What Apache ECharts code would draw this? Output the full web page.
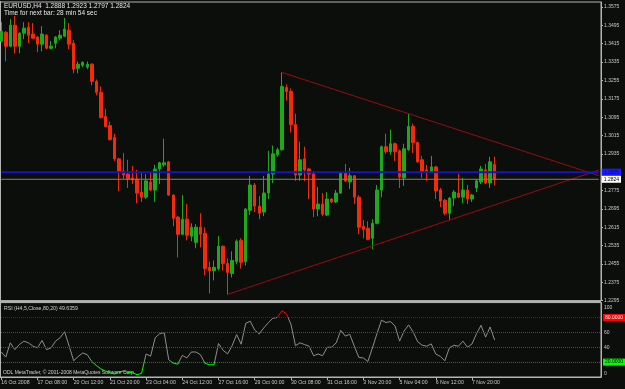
<!DOCTYPE html>
<html><head><meta charset="utf-8">
<script src="https://cdn.jsdelivr.net/npm/echarts@6/dist/echarts.min.js"></script>
<style>html,body{margin:0;padding:0;background:#0c0e0c}#c{width:625px;height:389px}</style>
</head><body><div id="c"></div>
<script>
const headerText = 'EURUSD,H4  1.2888 1.2923 1.2797 1.2824';
const timerText = 'Time for next bar: 28 min 54 sec';
const rsiTitle = 'RSI (H4,5,Close,80,20) 49.6359';
const copyright = 'ODL MetaTrader, \u00a9 2001-2008 MetaQuotes Software Corp.';
const dateTicks = ['16 Oct 2008','17 Oct 08:00','20 Oct 12:00','21 Oct 20:00','23 Oct 04:00','24 Oct 12:00','27 Oct 16:00','29 Oct 00:00','30 Oct 08:00','31 Oct 16:00','3 Nov 20:00','5 Nov 04:00','6 Nov 12:00','7 Nov 20:00'];
const barsPerTick = 8;
const slots = 133;
const opens = [1.3426,1.3465,1.3404,1.3496,1.3404,1.3461,1.3487,1.3457,1.3444,1.3413,
1.3452,1.3395,1.3417,1.3439,1.3448,1.3474,1.3417,1.3308,1.3321,1.3313,
1.3326,1.3251,1.3203,1.3098,1.3058,1.3006,1.2913,1.2860,1.2847,1.2830,
1.2825,1.2768,1.2746,1.2812,1.2777,1.2869,1.2887,1.2900,1.2755,1.2659,
1.2584,1.2650,1.2576,1.2549,1.2615,1.2589,1.2440,1.2426,1.2435,1.2532,
1.2457,1.2413,1.2465,1.2558,1.2465,1.2689,1.2799,1.2707,1.2681,1.2764,
1.2847,1.2931,1.2953,1.3224,1.3207,1.3063,1.2843,1.2913,1.2869,1.2847,
1.2694,1.2716,1.2668,1.2738,1.2725,1.2764,1.2852,1.2812,1.2839,1.2746,
1.2619,1.2611,1.2567,1.2632,1.2777,1.2966,1.2944,1.2979,1.2948,1.2830,
1.2953,1.3054,1.2984,1.2909,1.2865,1.2856,1.2878,1.2777,1.2733,1.2676,
1.2742,1.2764,1.2746,1.2777,1.2738,1.2786,1.2812,1.2865,1.2808,1.2888];
const highs = [1.3509,1.3470,1.3522,1.3536,1.3465,1.3509,1.3509,1.3505,1.3448,1.3492,
1.3457,1.3426,1.3448,1.3474,1.3527,1.3505,1.3430,1.3338,1.3338,1.3338,
1.3330,1.3259,1.3229,1.3132,1.3076,1.3023,1.2917,1.2939,1.2909,1.2882,
1.2865,1.2852,1.2847,1.2852,1.2887,1.2900,1.3001,1.2904,1.2759,1.2663,
1.2755,1.2716,1.2632,1.2628,1.2676,1.2615,1.2465,1.2470,1.2576,1.2536,
1.2479,1.2510,1.2562,1.2567,1.2698,1.2839,1.2808,1.2751,1.2839,1.2948,
1.2971,1.2962,1.3290,1.3238,1.3220,1.3110,1.2988,1.2966,1.2874,1.2860,
1.2790,1.2764,1.2768,1.2742,1.2777,1.2856,1.2891,1.2874,1.2843,1.2755,
1.2646,1.2641,1.2650,1.2799,1.2971,1.3023,1.3041,1.2984,1.2953,1.2979,
1.3110,1.3067,1.2988,1.2926,1.2887,1.2926,1.2882,1.2786,1.2738,1.2746,
1.2777,1.2847,1.2830,1.2799,1.2760,1.2825,1.2882,1.2891,1.2922,1.2923];
const lows = [1.3422,1.3338,1.3400,1.3373,1.3373,1.3435,1.3417,1.3435,1.3378,1.3382,
1.3391,1.3391,1.3395,1.3430,1.3444,1.3391,1.3286,1.3286,1.3313,1.3304,
1.3233,1.3190,1.3089,1.3050,1.2993,1.2904,1.2773,1.2825,1.2786,1.2803,
1.2720,1.2725,1.2738,1.2773,1.2725,1.2803,1.2878,1.2751,1.2619,1.2483,
1.2580,1.2558,1.2554,1.2523,1.2527,1.2405,1.2326,1.2383,1.2426,1.2426,
1.2322,1.2396,1.2453,1.2435,1.2448,1.2668,1.2681,1.2650,1.2663,1.2738,
1.2808,1.2922,1.2948,1.3167,1.3028,1.2817,1.2817,1.2817,1.2738,1.2659,
1.2663,1.2663,1.2663,1.2720,1.2720,1.2760,1.2812,1.2782,1.2716,1.2584,
1.2567,1.2558,1.2519,1.2628,1.2746,1.2935,1.2931,1.2904,1.2786,1.2795,
1.2948,1.2939,1.2896,1.2830,1.2817,1.2852,1.2738,1.2703,1.2668,1.2646,
1.2707,1.2742,1.2720,1.2716,1.2725,1.2768,1.2803,1.2803,1.2786,1.2797];
const closes = [1.3470,1.3404,1.3496,1.3404,1.3461,1.3483,1.3452,1.3439,1.3413,1.3457,
1.3395,1.3404,1.3444,1.3452,1.3479,1.3413,1.3304,1.3326,1.3334,1.3326,
1.3251,1.3203,1.3093,1.3054,1.2997,1.2913,1.2856,1.2843,1.2825,1.2821,
1.2764,1.2746,1.2817,1.2777,1.2869,1.2896,1.2896,1.2755,1.2654,1.2584,
1.2650,1.2580,1.2615,1.2615,1.2584,1.2435,1.2426,1.2440,1.2532,1.2457,
1.2418,1.2470,1.2554,1.2462,1.2694,1.2799,1.2707,1.2676,1.2764,1.2847,
1.2935,1.2953,1.3229,1.3207,1.3063,1.2843,1.2909,1.2865,1.2847,1.2694,
1.2716,1.2672,1.2738,1.2725,1.2764,1.2852,1.2817,1.2839,1.2746,1.2615,
1.2606,1.2562,1.2632,1.2777,1.2966,1.2944,1.2979,1.2944,1.2834,1.2957,
1.3054,1.2984,1.2900,1.2856,1.2856,1.2878,1.2773,1.2729,1.2676,1.2742,
1.2768,1.2746,1.2777,1.2738,1.2755,1.2817,1.2869,1.2808,1.2900,1.2824];
const rsiValues = [33.6,26.8,45.9,36.8,43.6,48.2,45.9,41.4,39.1,49.1,
36.8,39.1,48.2,52.7,60.9,41.4,21.8,27.7,32.3,30.0,
20.9,15.5,10.9,8,6,4,7,8,6,6,
3,5,30.9,28,52.7,58.2,59.5,23.2,18.6,17.3,
29.1,25.5,33.6,33.6,30.0,18.6,16.4,16.4,45,36,
31,42,57,44,72,75,63,58,66,73,
79,80,89,85,71,42,46,43.6,41.4,28.6,
30.9,28.6,40,40,45.9,62.7,55,57.3,41.4,26.4,
25.5,20.9,39.1,58.2,76.4,73.2,74.5,68.6,48.2,61.8,
70,60.5,47.3,42.7,41.4,44.5,30.9,27.7,21.8,39.1,
42.7,41.4,48.2,40,44.5,58.2,69.5,53.6,67.3,49.6359];
const priceAxis = {min: 1.2295, max: 1.3597, interval: 0.008};
const upperTrend = [[62, 1.3290], [90, 1.3110]];
const lowerTrend = [[50, 1.2322], [99, 1.2646]];
const blueLevel = 1.2855;
const bidLevel = 1.2824;
const rsiLevels = [80, 60, 40, 20];

const cats = Array.from({length: slots}, (_, i) =>
  (i % barsPerTick === 0 && i / barsPerTick < dateTicks.length) ? dateTicks[i / barsPerTick] : '');
const candles = opens.map((o, i) => [o, closes[i], lows[i], highs[i]]);
function ray(pts) {
  const [[i1, p1], [i2, p2]] = pts;
  const s = (p2 - p1) / (i2 - i1);
  return [[i1, p1], [slots - 1, p1 + s * (slots - 1 - i1)]];
}
const hline = v => [[0, v], [slots - 1, v]];
const FONT = 'Liberation Sans';
const LBL = '#c8c8c8';
const FRAME = '#b4b4b4';
const showTick = (idx, val) => val !== '';
const boxLabel = (txt, fg, bg) => ({show: true, formatter: txt, distance: 3, fontSize: 5, color: fg, backgroundColor: bg, padding: [1, 2, 1, 2], fontFamily: FONT});

const chart = echarts.init(document.getElementById('c'), null, {renderer: 'canvas'});
chart.setOption({
  backgroundColor: '#0c0e0c',
  animation: false,
  textStyle: {fontFamily: FONT},
  grid: [
    {left: -1, right: 24, top: 2, height: 298.6, show: true, borderColor: FRAME, borderWidth: 1, outerBoundsMode: 'none', containLabel: false},
    {left: -1, right: 24, top: 302.6, height: 74.4, show: true, borderColor: FRAME, borderWidth: 1, outerBoundsMode: 'none', containLabel: false}
  ],
  xAxis: [
    {type: 'category', gridIndex: 0, data: cats, boundaryGap: true,
     axisLine: {show: false}, axisTick: {show: false}, axisLabel: {show: false}, splitLine: {show: false}},
    {type: 'category', gridIndex: 1, data: cats, boundaryGap: true,
     axisLine: {show: true, lineStyle: {color: FRAME}},
     axisTick: {show: true, alignWithLabel: true, interval: showTick, length: 3, lineStyle: {color: FRAME}},
     axisLabel: {interval: showTick, align: 'left', fontSize: 5.2, color: LBL, margin: 3, fontFamily: FONT},
     splitLine: {show: false}}
  ],
  yAxis: [
    {type: 'value', gridIndex: 0, position: 'right', min: priceAxis.min, max: priceAxis.max, interval: priceAxis.interval,
     axisLine: {show: true, lineStyle: {color: FRAME}}, axisTick: {show: true, length: 2, lineStyle: {color: FRAME}},
     splitLine: {show: false},
     axisLabel: {fontSize: 5, color: LBL, margin: 3, showMaxLabel: false, fontFamily: FONT, formatter: v => v.toFixed(4)}},
    {type: 'value', gridIndex: 1, position: 'right', min: 0, max: 100, interval: 20,
     axisLine: {show: true, lineStyle: {color: FRAME}}, axisTick: {show: false},
     splitLine: {show: false},
     axisLabel: {fontSize: 5, color: LBL, margin: 3, fontFamily: FONT,
       formatter: v => (v === 80 || v === 20) ? '' : (v === 100 ? '{t|100}' : (v === 0 ? '{b|0}' : String(v))),
       rich: {t: {fontSize: 5, color: LBL, padding: [11, 0, 0, 0]}, b: {fontSize: 5, color: LBL, padding: [0, 0, 6, 0]}}}}
  ],
  visualMap: {type: 'piecewise', show: false, seriesIndex: 3, dimension: 1,
    pieces: [{lt: 20, color: '#00ff00'}, {gte: 20, lte: 80, color: '#8c8c8c'}, {gt: 80, color: '#ff0000'}]},
  series: [
    {type: 'candlestick', xAxisIndex: 0, yAxisIndex: 0, data: candles, barWidth: 3, z: 2,
     itemStyle: {color: '#1caa1c', color0: '#f52a0a', borderColor: '#1caa1c', borderColor0: '#f52a0a', borderWidth: 1}},
    {type: 'line', xAxisIndex: 0, yAxisIndex: 0, data: ray(upperTrend), showSymbol: false, symbol: 'none', silent: true, z: 3,
     lineStyle: {color: '#9a0a0a', width: 1}},
    {type: 'line', xAxisIndex: 0, yAxisIndex: 0, data: ray(lowerTrend), showSymbol: false, symbol: 'none', silent: true, z: 3,
     lineStyle: {color: '#9a0a0a', width: 1}},
    {type: 'line', xAxisIndex: 1, yAxisIndex: 1, data: rsiValues, showSymbol: false, symbol: 'none', silent: true,
     lineStyle: {width: 1},
     markLine: {symbol: ['none', 'none'], silent: true, animation: false, precision: 4,
       data: rsiLevels.map(l => ({yAxis: l,
         lineStyle: {color: l === 80 ? '#8c0a0a' : (l === 20 ? '#0a8c0a' : '#4a4a4a'), width: 1, type: 'dotted'},
         label: (l === 80 || l === 20) ? Object.assign(boxLabel(l.toFixed(4), l === 80 ? '#ffffff' : '#000000', l === 80 ? '#ff0000' : '#00ff00'), {position: 'end', distance: 2}) : {show: false}}))}},
    {type: 'line', xAxisIndex: 0, yAxisIndex: 0, data: hline(blueLevel), showSymbol: false, symbol: 'none', silent: true, z: 4,
     lineStyle: {color: '#1414c8', width: 2},
     endLabel: boxLabel(blueLevel.toFixed(4), '#0a0a8c', '#1a1aff')},
    {type: 'line', xAxisIndex: 0, yAxisIndex: 0, data: hline(bidLevel), showSymbol: false, symbol: 'none', silent: true, z: 4,
     lineStyle: {color: '#808080', width: 1},
     endLabel: boxLabel(bidLevel.toFixed(4), '#000000', '#ffffff')}
  ],
  graphic: [
    {type: 'line', shape: {x1: 0.5, y1: 1, x2: 0.5, y2: 377}, style: {stroke: FRAME, lineWidth: 1}, silent: true},
    {type: 'rect', shape: {x: 0, y: 300.8, width: 601, height: 1.8}, style: {fill: FRAME}, silent: true},
    {type: 'text', left: 4, top: 2.5, style: {text: headerText, fill: '#e6e6e6', font: '6.5px "Liberation Sans"'}, silent: true},
    {type: 'text', left: 4, top: 9.5, style: {text: timerText, fill: '#e6e6e6', font: '6.5px "Liberation Sans"'}, silent: true},
    {type: 'text', left: 4, top: 306, style: {text: rsiTitle, fill: '#d0d0d0', font: '5.2px "Liberation Sans"'}, silent: true},
    {type: 'text', left: 3, top: 370, style: {text: copyright, fill: '#d0d0d0', font: '5px "Liberation Sans"'}, silent: true}
  ]
});
</script></body></html>
